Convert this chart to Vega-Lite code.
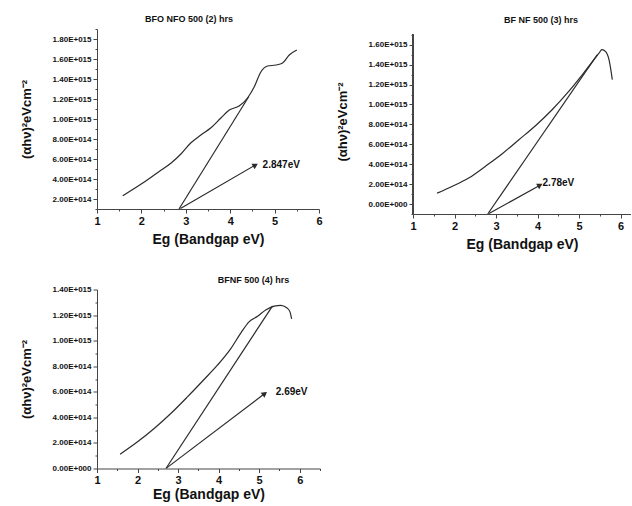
{
  "$schema": "https://vega.github.io/schema/vega-lite/v6.json",
  "padding": {"left": 20, "top": 14, "right": 0, "bottom": 0},
  "background": "white",
  "config": {
    "view": {"stroke": null},
    "font": "Liberation Sans",
    "axis": {
      "grid": false,
      "labelFont": "Liberation Sans",
      "labelFontWeight": "bold",
      "labelColor": "#111",
      "domainColor": "#444",
      "tickColor": "#444",
      "titleFont": "Liberation Sans",
      "titleFontWeight": "bold",
      "titleColor": "#111",
      "titleFontSize": 14,
      "labelOverlap": false
    },
    "axisX": {"labelFontSize": 11, "labelPadding": 2, "titlePadding": 6, "labelFlush": false},
    "axisY": {"labelFontSize": 8, "labelPadding": 2, "titlePadding": 19, "titleFontSize": 13},
    "title": {"font": "Liberation Sans", "fontSize": 9, "fontWeight": "bold", "color": "#111", "frame": "group"}
  },
  "datasets": {
    "p1": [
      {"series": "curve", "x": 1.58, "y": 233000000000000},
      {"series": "curve", "x": 2.03, "y": 360000000000000},
      {"series": "curve", "x": 2.40, "y": 476000000000000},
      {"series": "curve", "x": 2.67, "y": 560000000000000},
      {"series": "curve", "x": 2.89, "y": 650000000000000},
      {"series": "curve", "x": 3.11, "y": 760000000000000},
      {"series": "curve", "x": 3.34, "y": 840000000000000},
      {"series": "curve", "x": 3.56, "y": 910000000000000},
      {"series": "curve", "x": 3.79, "y": 1010000000000000},
      {"series": "curve", "x": 3.98, "y": 1090000000000000},
      {"series": "curve", "x": 4.20, "y": 1130000000000000},
      {"series": "curve", "x": 4.39, "y": 1210000000000000},
      {"series": "curve", "x": 4.54, "y": 1320000000000000},
      {"series": "curve", "x": 4.69, "y": 1470000000000000},
      {"series": "curve", "x": 4.84, "y": 1530000000000000},
      {"series": "curve", "x": 5.03, "y": 1540000000000000},
      {"series": "curve", "x": 5.18, "y": 1560000000000000},
      {"series": "curve", "x": 5.33, "y": 1640000000000000},
      {"series": "curve", "x": 5.50, "y": 1690000000000000},
      {"series": "tangent", "x": 2.847, "y": 100000000000000},
      {"series": "tangent", "x": 4.42, "y": 1225000000000000},
      {"series": "arrow", "x": 2.88, "y": 105000000000000},
      {"series": "arrow", "x": 4.58, "y": 543000000000000},
      {"series": "head", "x": 4.55, "y": 535000000000000},
      {"series": "label", "x": 4.73, "y": 545000000000000, "label": "2.847eV"}
    ],
    "p2": [
      {"series": "curve", "x": 1.58, "y": 110000000000000},
      {"series": "curve", "x": 1.94, "y": 177000000000000},
      {"series": "curve", "x": 2.34, "y": 261000000000000},
      {"series": "curve", "x": 2.74, "y": 378000000000000},
      {"series": "curve", "x": 3.15, "y": 505000000000000},
      {"series": "curve", "x": 3.55, "y": 646000000000000},
      {"series": "curve", "x": 3.95, "y": 787000000000000},
      {"series": "curve", "x": 4.35, "y": 947000000000000},
      {"series": "curve", "x": 4.75, "y": 1131000000000000},
      {"series": "curve", "x": 5.08, "y": 1300000000000000},
      {"series": "curve", "x": 5.32, "y": 1430000000000000},
      {"series": "curve", "x": 5.48, "y": 1516000000000000},
      {"series": "curve", "x": 5.55, "y": 1550000000000000},
      {"series": "curve", "x": 5.64, "y": 1530000000000000},
      {"series": "curve", "x": 5.72, "y": 1450000000000000},
      {"series": "curve", "x": 5.80, "y": 1250000000000000},
      {"series": "tangent", "x": 2.80, "y": -100000000000000},
      {"series": "tangent", "x": 5.44, "y": 1500000000000000},
      {"series": "arrow", "x": 2.83, "y": -95000000000000},
      {"series": "arrow", "x": 4.08, "y": 194000000000000},
      {"series": "head", "x": 4.04, "y": 185000000000000},
      {"series": "label", "x": 4.12, "y": 210000000000000, "label": "2.78eV"}
    ],
    "p3": [
      {"series": "curve", "x": 1.57, "y": 112000000000000},
      {"series": "curve", "x": 2.00, "y": 209000000000000},
      {"series": "curve", "x": 2.41, "y": 313000000000000},
      {"series": "curve", "x": 2.82, "y": 430000000000000},
      {"series": "curve", "x": 3.23, "y": 560000000000000},
      {"series": "curve", "x": 3.64, "y": 696000000000000},
      {"series": "curve", "x": 3.97, "y": 808000000000000},
      {"series": "curve", "x": 4.30, "y": 938000000000000},
      {"series": "curve", "x": 4.55, "y": 1061000000000000},
      {"series": "curve", "x": 4.75, "y": 1147000000000000},
      {"series": "curve", "x": 4.96, "y": 1190000000000000},
      {"series": "curve", "x": 5.16, "y": 1240000000000000},
      {"series": "curve", "x": 5.37, "y": 1270000000000000},
      {"series": "curve", "x": 5.53, "y": 1276000000000000},
      {"series": "curve", "x": 5.68, "y": 1257000000000000},
      {"series": "curve", "x": 5.76, "y": 1225000000000000},
      {"series": "curve", "x": 5.80, "y": 1170000000000000},
      {"series": "tangent", "x": 2.70, "y": 0},
      {"series": "tangent", "x": 5.33, "y": 1272000000000000},
      {"series": "arrow", "x": 2.72, "y": 5000000000000},
      {"series": "arrow", "x": 5.16, "y": 592000000000000},
      {"series": "head", "x": 5.12, "y": 582000000000000},
      {"series": "label", "x": 5.41, "y": 600000000000000, "label": "2.69eV"}
    ]
  },
  "vconcat": [
    {
      "hconcat": [
        {
          "width": 222,
          "height": 180,
          "data": {"name": "p1"},
          "title": {"text": "BFO NFO 500 (2) hrs", "anchor": "middle", "dx": -19, "offset": 1.5},
          "encoding": {
            "x": {
              "field": "x", "type": "quantitative",
              "scale": {"domain": [1, 6], "nice": false, "zero": false},
              "axis": {
                "title": "Eg (Bandgap eV)",
                "values": [1, 1.5, 2, 2.5, 3, 3.5, 4, 4.5, 5, 5.5, 6],
                "labelExpr": "datum.value % 1 != 0 ? '' : format(datum.value, 'd')",
                "tickSize": {"condition": {"test": "datum.value % 1 != 0", "value": 2}, "value": 4}
              }
            },
            "y": {
              "field": "y", "type": "quantitative",
              "scale": {"domain": [100000000000000, 1900000000000000], "nice": false, "zero": false},
              "axis": {
                "title": "(αhν)²eVcm⁻²",
                "values": [100000000000000, 200000000000000, 300000000000000, 400000000000000, 500000000000000, 600000000000000, 700000000000000, 800000000000000, 900000000000000, 1000000000000000, 1100000000000000, 1200000000000000, 1300000000000000, 1400000000000000, 1500000000000000, 1600000000000000, 1700000000000000, 1800000000000000, 1900000000000000],
                "labelExpr": "datum.value % 200000000000000 != 0 ? '' : (datum.value == 0 ? '0.00E+000' : (abs(datum.value) >= 1000000000000000 ? format(datum.value/1000000000000000, '.2f') + 'E+015' : format(datum.value/100000000000000, '.2f') + 'E+014'))",
                "tickSize": {"condition": {"test": "datum.value % 200000000000000 != 0", "value": 2}, "value": 4}
              }
            }
          },
          "layer": [
            {"transform": [{"filter": "datum.series == 'curve'"}], "mark": {"type": "line", "interpolate": "monotone", "color": "#2b2b2b", "strokeWidth": 1.2}},
            {"transform": [{"filter": "datum.series == 'tangent' || datum.series == 'arrow'"}], "mark": {"type": "line", "color": "#2b2b2b", "strokeWidth": 1.2}, "encoding": {"detail": {"field": "series"}}},
            {"transform": [{"filter": "datum.series == 'head'"}], "mark": {"type": "point", "shape": "triangle", "filled": true, "color": "#2b2b2b", "opacity": 1, "size": 40, "angle": 60}},
            {"transform": [{"filter": "datum.series == 'label'"}], "mark": {"type": "text", "align": "left", "baseline": "middle", "fontSize": 10, "fontWeight": "bold", "color": "#111", "font": "Liberation Sans"}, "encoding": {"text": {"field": "label"}}}
          ]
        },
        {
          "width": 218,
          "height": 185,
          "data": {"name": "p2"},
          "title": {"text": "BF NF 500 (3) hrs", "anchor": "middle", "dx": 19, "offset": 4.5},
          "encoding": {
            "x": {
              "field": "x", "type": "quantitative",
              "scale": {"domain": [1, 6.25], "nice": false, "zero": false},
              "axis": {
                "title": "Eg (Bandgap eV)",
                "values": [1, 1.5, 2, 2.5, 3, 3.5, 4, 4.5, 5, 5.5, 6],
                "labelExpr": "datum.value % 1 != 0 ? '' : format(datum.value, 'd')",
                "tickSize": {"condition": {"test": "datum.value % 1 != 0", "value": 2}, "value": 4}
              }
            },
            "y": {
              "field": "y", "type": "quantitative",
              "scale": {"domain": [-100000000000000, 1758000000000000], "nice": false, "zero": false},
              "axis": {
                "title": "(αhν)²eVcm⁻²",
                "domain": false,
                "values": [-100000000000000, 0, 100000000000000, 200000000000000, 300000000000000, 400000000000000, 500000000000000, 600000000000000, 700000000000000, 800000000000000, 900000000000000, 1000000000000000, 1100000000000000, 1200000000000000, 1300000000000000, 1400000000000000, 1500000000000000, 1600000000000000, 1700000000000000],
                "labelExpr": "datum.value % 200000000000000 != 0 ? '' : (datum.value == 0 ? '0.00E+000' : (abs(datum.value) >= 1000000000000000 ? format(datum.value/1000000000000000, '.2f') + 'E+015' : format(datum.value/100000000000000, '.2f') + 'E+014'))",
                "tickSize": {"condition": {"test": "datum.value % 200000000000000 != 0", "value": 2}, "value": 4}
              }
            }
          },
          "layer": [
            {"mark": {"type": "rule", "color": "#444", "strokeWidth": 1}, "encoding": {"x": {"datum": 1, "type": "quantitative"}, "y": {"datum": -100000000000000, "type": "quantitative"}, "y2": {"datum": 1700000000000000}}},
            {"transform": [{"filter": "datum.series == 'curve'"}], "mark": {"type": "line", "interpolate": "monotone", "color": "#2b2b2b", "strokeWidth": 1.2}},
            {"transform": [{"filter": "datum.series == 'tangent' || datum.series == 'arrow'"}], "mark": {"type": "line", "color": "#2b2b2b", "strokeWidth": 1.2}, "encoding": {"detail": {"field": "series"}}},
            {"transform": [{"filter": "datum.series == 'head'"}], "mark": {"type": "point", "shape": "triangle", "filled": true, "color": "#2b2b2b", "opacity": 1, "size": 40, "angle": 61}},
            {"transform": [{"filter": "datum.series == 'label'"}], "mark": {"type": "text", "align": "left", "baseline": "middle", "fontSize": 10, "fontWeight": "bold", "color": "#111", "font": "Liberation Sans"}, "encoding": {"text": {"field": "label"}}}
          ]
        }
      ],
      "spacing": 94,
      "bounds": "flush"
    },
    {
      "width": 223,
      "height": 179,
      "data": {"name": "p3"},
      "title": {"text": "BFNF 500 (4) hrs", "anchor": "middle", "dx": 45, "offset": 0.5},
      "encoding": {
        "x": {
          "field": "x", "type": "quantitative",
          "scale": {"domain": [1, 6.5], "nice": false, "zero": false},
          "axis": {
            "title": "Eg (Bandgap eV)",
            "titlePadding": 2,
            "values": [1, 1.5, 2, 2.5, 3, 3.5, 4, 4.5, 5, 5.5, 6, 6.5],
            "labelExpr": "datum.value % 1 != 0 ? '' : format(datum.value, 'd')",
            "tickSize": {"condition": {"test": "datum.value % 1 != 0", "value": 2}, "value": 4}
          }
        },
        "y": {
          "field": "y", "type": "quantitative",
          "scale": {"domain": [0, 1400000000000000], "nice": false, "zero": false},
          "axis": {
            "title": "(αhν)²eVcm⁻²",
            "values": [0, 100000000000000, 200000000000000, 300000000000000, 400000000000000, 500000000000000, 600000000000000, 700000000000000, 800000000000000, 900000000000000, 1000000000000000, 1100000000000000, 1200000000000000, 1300000000000000, 1400000000000000],
            "labelExpr": "datum.value % 200000000000000 != 0 ? '' : (datum.value == 0 ? '0.00E+000' : (abs(datum.value) >= 1000000000000000 ? format(datum.value/1000000000000000, '.2f') + 'E+015' : format(datum.value/100000000000000, '.2f') + 'E+014'))",
            "tickSize": {"condition": {"test": "datum.value % 200000000000000 != 0", "value": 2}, "value": 4}
          }
        }
      },
      "layer": [
        {"transform": [{"filter": "datum.series == 'curve'"}], "mark": {"type": "line", "interpolate": "monotone", "color": "#2b2b2b", "strokeWidth": 1.2}},
        {"transform": [{"filter": "datum.series == 'tangent' || datum.series == 'arrow'"}], "mark": {"type": "line", "color": "#2b2b2b", "strokeWidth": 1.2}, "encoding": {"detail": {"field": "series"}}},
        {"transform": [{"filter": "datum.series == 'head'"}], "mark": {"type": "point", "shape": "triangle", "filled": true, "color": "#2b2b2b", "opacity": 1, "size": 40, "angle": 53}},
        {"transform": [{"filter": "datum.series == 'label'"}], "mark": {"type": "text", "align": "left", "baseline": "middle", "fontSize": 10, "fontWeight": "bold", "color": "#111", "font": "Liberation Sans"}, "encoding": {"text": {"field": "label"}}}
      ]
    }
  ],
  "spacing": 24.5
}
